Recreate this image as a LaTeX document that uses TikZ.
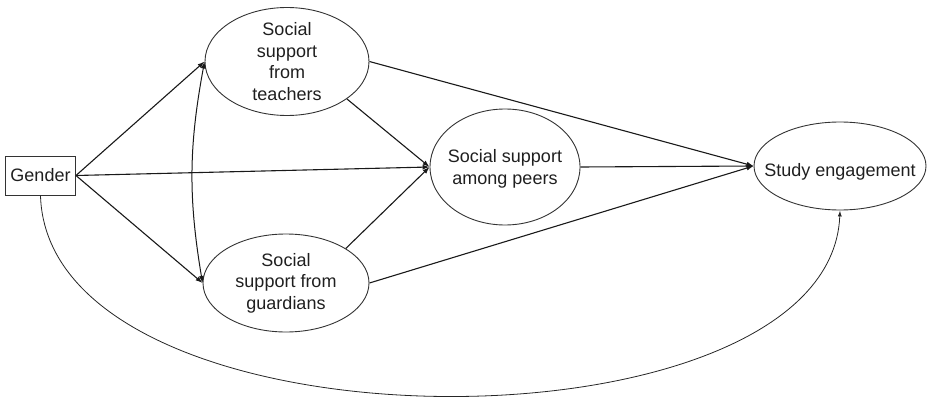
\documentclass[tikz,border=0pt]{standalone}
\usepackage{fontspec}
\setmainfont{Liberation Sans}
\usetikzlibrary{arrows.meta,shapes.geometric}
\begin{document}
\begin{tikzpicture}[x=1pt,y=-1pt,
  every node/.style={font=\fontsize{18}{21.5}\selectfont, text=black!88},
  ell/.style={draw=black!80, line width=0.9pt, ellipse, inner sep=0pt},
  lbl/.style={align=center, inner sep=0pt},
  box/.style={draw=black!80, line width=0.9pt, rectangle, inner sep=0pt, minimum width=70pt, minimum height=39pt},
  arr/.style={draw=black!90, line width=1.1pt, -{Latex[length=7pt,width=5pt]}},
  thin/.style={draw=black!85, line width=0.8pt, -{Latex[length=6pt,width=4pt]}}]
\useasboundingbox (0,0) rectangle (928,401);
\node[box] (gen) at (40.5,175.5) {Gender};
\node[ell, minimum width=164pt, minimum height=108pt] (tea) at (287,61.5) {};
\node[ell, minimum width=166pt, minimum height=98pt] (gua) at (286,283) {};
\node[ell, minimum width=150pt, minimum height=116pt] (pee) at (505,167) {};
\node[ell, minimum width=172pt, minimum height=88pt] (stu) at (840,166) {};
\node[lbl] (teaL) at (tea) {Social\\support\\from\\teachers};
\node[lbl] (guaL) at (gua) {Social\\support from\\guardians};
\node[lbl] (peeL) at ([yshift=-2pt]pee.center) {Social support\\among peers};
\node[lbl] (stuL) at ([yshift=-6pt]stu.center) {Study engagement};
\draw[arr] (gen.east) -- (tea.west);
\draw[arr] (gen.east) -- (gua.west);
\draw[arr] (gen.east) -- (pee.west);
\draw[arr] (tea.-32) -- (pee.west);
\draw[arr] (gua.30) -- (pee.west);
\draw[arr] (tea.east) -- (stu.west);
\draw[arr] (pee.east) -- (stu.west);
\draw[arr] (gua.east) -- (stu.west);
\draw[draw=black!90, line width=1pt, {Latex[length=7pt,width=5pt]}-{Latex[length=7pt,width=5pt]}] (tea.west) to[bend right=10] (gua.west);
\draw[thin] (gen.south) .. controls (48,460) and (830,460) .. (stu.south);
\end{tikzpicture}
\end{document}
